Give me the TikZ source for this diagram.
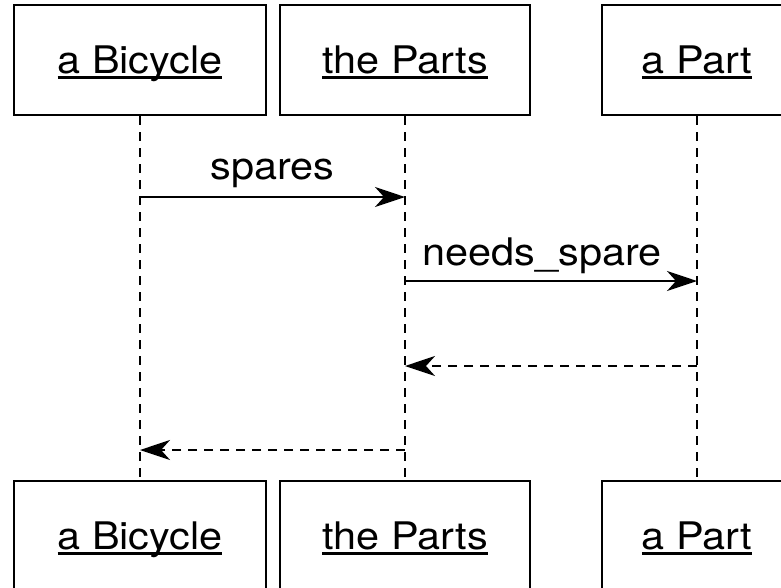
\documentclass[tikz,border=0pt]{standalone}
\usepackage{fontspec}
\setmainfont{TeX Gyre Heros}[FakeStretch=1.09]
\usepackage{tikz}
\usetikzlibrary{arrows.meta}

\newcommand{\ulname}[1]{\setbox0\hbox{#1}\rlap{\rule[-5.5pt]{\wd0}{2.2pt}}\box0}

\begin{document}
\begin{tikzpicture}[x=1pt,y=-1pt]
\tikzstyle{obj}=[draw,line width=2.9pt,inner sep=0pt,minimum height=110pt,
  text height=30pt,text depth=4pt,font=\fontsize{38}{44}\selectfont]
\tikzstyle{life}=[line width=2.5pt,dash pattern=on 9pt off 7pt]
\tikzstyle{call}=[line width=2.4pt,-{Stealth[length=30pt,width=20pt,inset=9pt]}]
\tikzstyle{back}=[call,dash pattern=on 9pt off 7pt]
\tikzstyle{msg}=[anchor=base,inner sep=0pt,font=\fontsize{38}{44}\selectfont]
\useasboundingbox (0,0) rectangle (781,587);
\clip (0,0) rectangle (781,587);
\node[obj,minimum width=252pt] (bike1) at (140,60) {\ulname{a Bicycle}};
\node[obj,minimum width=250pt] (parts1) at (405,60) {\ulname{the Parts}};
\node[obj,minimum width=190pt] (part1) at (697,60) {\ulname{a Part}};
\node[obj,minimum width=252pt] (bike2) at (140,536) {\ulname{a Bicycle}};
\node[obj,minimum width=250pt] (parts2) at (405,536) {\ulname{the Parts}};
\node[obj,minimum width=190pt] (part2) at (697,536) {\ulname{a Part}};
\draw[life] (bike1.south) -- (bike2.north);
\draw[life] (parts1.south) -- (parts2.north);
\draw[life] (part1.south) -- (part2.north);
\coordinate (r1) at (0,197);
\coordinate (r2) at (0,281);
\coordinate (r3) at (0,366);
\coordinate (r4) at (0,450);
\draw[call] (bike1 |- r1) -- (parts1 |- r1)
  node[msg,midway,yshift=18pt] (spares) {spares};
\draw[call] (parts1 |- r2) -- (part1 |- r2)
  node[msg,pos=0.47,yshift=16pt] (needs) {needs\_spare};
\draw[back] (part1 |- r3) -- (parts1 |- r3);
\draw[back] (parts1 |- r4) -- (bike1 |- r4);
\end{tikzpicture}
\end{document}
